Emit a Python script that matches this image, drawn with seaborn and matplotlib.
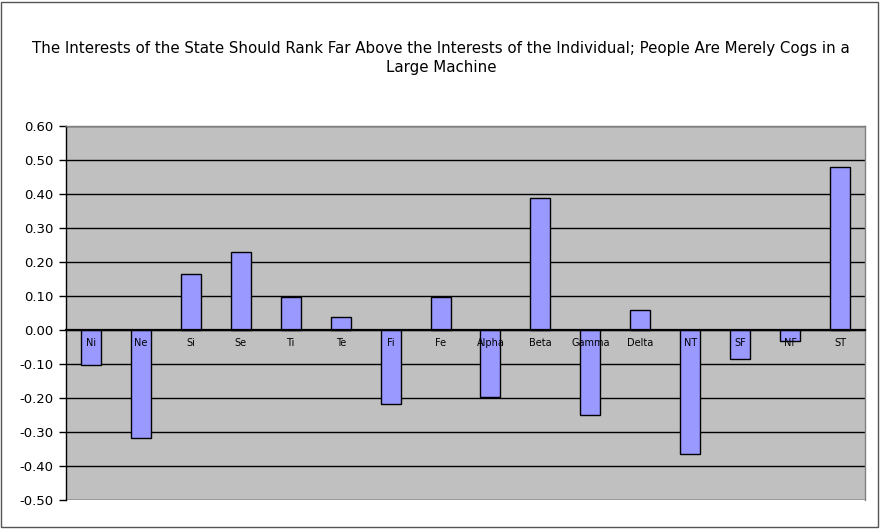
"""
Bar chart: State vs Individual interests by type.
"""

import matplotlib
matplotlib.use("Agg")
import matplotlib.pyplot as plt
import seaborn as sns
from matplotlib.patches import Rectangle
from matplotlib.ticker import FixedLocator, FormatStrFormatter


# ---------------------------------------------------
# Datos
# ---------------------------------------------------

categories = ["Ni", "Ne", "Si", "Se", "Ti", "Te", "Fi", "Fe",
              "Alpha", "Beta", "Gamma", "Delta", "NT", "SF", "NF", "ST"]

values = [-0.104, -0.319, 0.164, 0.228, 0.098, 0.037, -0.219, 0.096,
          -0.198, 0.387, -0.251, 0.058, -0.366, -0.086, -0.033, 0.478]

y_ticks = [-0.5, -0.4, -0.3, -0.2, -0.1, 0.0, 0.1, 0.2, 0.3, 0.4, 0.5, 0.6]

title = ("The Interests of the State Should Rank Far Above the Interests of the "
         "Individual; People Are Merely Cogs in a\nLarge Machine")


# ---------------------------------------------------
# Figura
# ---------------------------------------------------

sns.set_style("white")
plt.rcParams["font.family"] = ["DejaVu Sans"]
plt.rcParams["text.color"] = "black"
plt.rcParams["xtick.color"] = "black"
plt.rcParams["ytick.color"] = "black"
plt.rcParams["xtick.labelcolor"] = "black"
plt.rcParams["ytick.labelcolor"] = "black"

fig = plt.figure(figsize=(8.82, 5.31), dpi=100)
ax = fig.add_axes([66 / 882, 31 / 531, 799 / 882, 374 / 531])
ax.set_facecolor("#C0C0C0")

sns.barplot(
    x=categories,
    y=values,
    color="#9999FF",
    saturation=1,
    edgecolor="black",
    linewidth=1,
    width=0.4,
    ax=ax,
    zorder=3
)

ax.set_xlim(-0.5, len(categories) - 0.5)
ax.set_ylim(-0.5, 0.6)

# Gridlines horizontales
ax.yaxis.set_major_locator(FixedLocator(y_ticks))
ax.yaxis.set_major_formatter(FormatStrFormatter("%.2f"))
ax.grid(axis="y", color="black", linewidth=1)
ax.set_axisbelow(True)

# Eje de categorías sobre el cero (etiquetas por encima de las barras)
ax.xaxis.set_zorder(5)
for side in ["top", "right"]:
    ax.spines[side].set_color("#808080")
    ax.spines[side].set_linewidth(1)
ax.spines["left"].set_color("black")
ax.spines["left"].set_linewidth(1)
ax.spines["bottom"].set_position(("data", 0))
ax.spines["bottom"].set_color("black")
ax.spines["bottom"].set_linewidth(1.6)
ax.spines["bottom"].set_zorder(4)

ax.set_xticks(range(len(categories)))
ax.set_xticklabels(categories, fontsize=7, color="black")
ax.tick_params(axis="x", which="major", length=0, pad=6)
ax.set_xticks([i + 0.5 for i in range(len(categories) - 1)], minor=True)
ax.tick_params(axis="x", which="minor", length=4, width=1, direction="out",
               color="black")

ax.tick_params(axis="y", length=5, width=1, direction="out", color="black",
               labelsize=9.5, labelcolor="black", pad=4, left=True)

ax.set_xlabel("")
ax.set_ylabel("")

# Título
fig.text(
    0.5, 1 - 58 / 531,
    title,
    ha="center",
    va="center",
    fontsize=10.8,
    color="black",
    linespacing=1.35
)

# Borde exterior
fig.patches.append(Rectangle(
    (1 / 882, 4 / 531), 877 / 882, 525 / 531,
    transform=fig.transFigure,
    fill=False,
    edgecolor="#555555",
    linewidth=1
))

plt.savefig("out.png", dpi=100)
